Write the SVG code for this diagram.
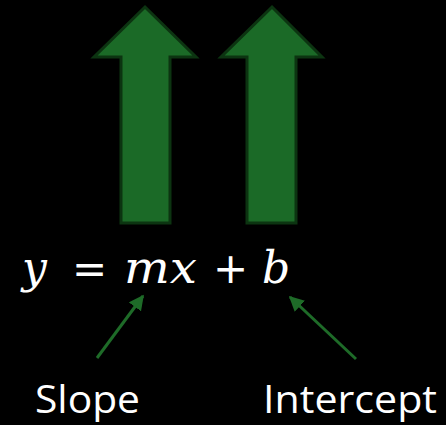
<svg xmlns="http://www.w3.org/2000/svg" width="446" height="425" viewBox="0 0 446 425">
<style>
.big{fill:#1b6a27;stroke:#0c3411;stroke-width:3;stroke-linejoin:miter}
.eq{font-family:"DejaVu Serif","Liberation Serif",serif;font-style:italic;font-size:44px;fill:#fff}
.op{font-family:"DejaVu Sans","Liberation Sans",sans-serif;font-size:42px;fill:#fff}
.lbl{font-family:"Open Sans","Noto Sans",sans-serif;font-size:39px;fill:#fff}
.conn{stroke:#1e6b28;stroke-width:3;fill:none}
</style>
<defs>
<marker id="ah" viewBox="0 0 10 10" refX="9" refY="5" markerWidth="5" markerHeight="5" orient="auto" markerUnits="strokeWidth">
<path d="M0,0 L10,5 L0,10 z" fill="#1e6b28"/>
</marker>
</defs>
<rect width="446" height="425" fill="#000"/>
<g id="arrow1"><path class="big" d="M145,7 L196,57 L170,57 L170,223 L121,223 L121,57 L94,57 Z"/></g>
<g id="arrow2"><path class="big" d="M272,7 L322,57 L296,57 L296,223 L247,223 L247,57 L221,57 Z"/></g>
<g id="equation">
<text class="eq" x="22" y="283">y</text>
<text class="op" x="72" y="283">=</text>
<text class="eq" x="124" y="283" textLength="73" lengthAdjust="spacingAndGlyphs">mx</text>
<text class="op" x="213" y="283">+</text>
<text class="eq" x="262" y="283">b</text>
</g>
<g id="slope"><text class="lbl" x="35" y="413" textLength="105" lengthAdjust="spacingAndGlyphs">Slope</text></g>
<g id="intercept"><text class="lbl" x="263" y="413" textLength="174" lengthAdjust="spacingAndGlyphs">Intercept</text></g>
<g id="connectors">
<line class="conn" x1="97" y1="358" x2="143" y2="296" marker-end="url(#ah)"/>
<line class="conn" x1="356" y1="359" x2="290" y2="297" marker-end="url(#ah)"/>
</g>
</svg>
